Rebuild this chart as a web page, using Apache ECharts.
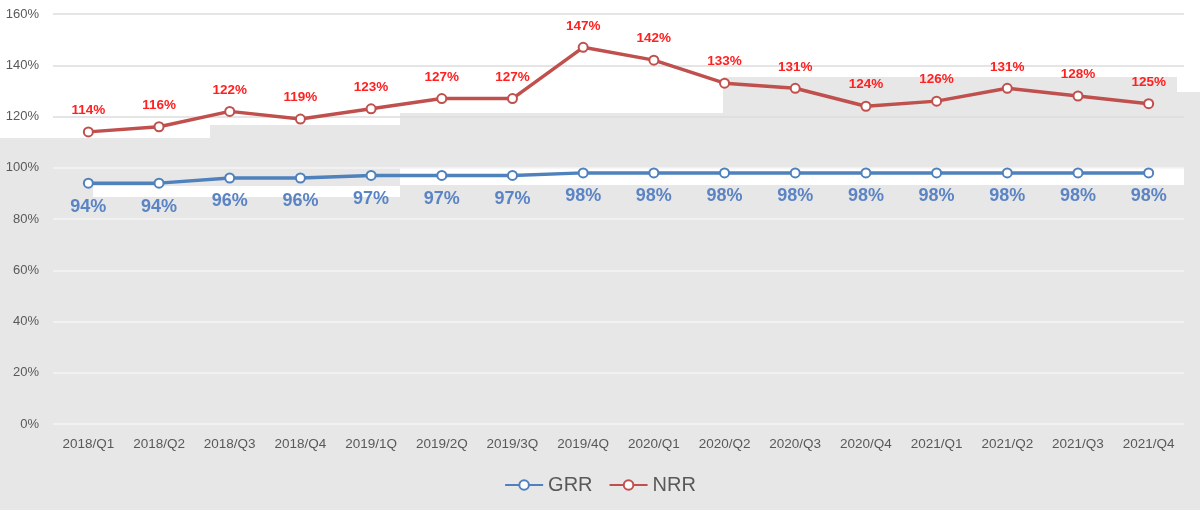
<!DOCTYPE html>
<html>
<head>
<meta charset="utf-8">
<script src="https://cdn.jsdelivr.net/npm/echarts@6/dist/echarts.min.js"></script>
<style>
html,body{margin:0;padding:0;background:#e7e7e7;}
#chart{width:1200px;height:510px;}
</style>
</head>
<body>
<div id="chart"></div>
<script>
const categories = ['2018/Q1','2018/Q2','2018/Q3','2018/Q4','2019/1Q','2019/2Q','2019/3Q','2019/4Q','2020/Q1','2020/Q2','2020/Q3','2020/Q4','2021/Q1','2021/Q2','2021/Q3','2021/Q4'];
const grr = [94,94,96,96,97,97,97,98,98,98,98,98,98,98,98,98];
const nrr = [114,116,122,119,123,127,127,147,142,133,131,124,126,131,128,125];
const seriesNames = ['GRR','NRR'];

const FONT = '"Liberation Sans", Arial, sans-serif';
const chart = echarts.init(document.getElementById('chart'), null, {renderer:'canvas'});

function whiteRect(x,y,w,h){
  return {type:'rect', z:-10, silent:true, shape:{x:x,y:y,width:w,height:h}, style:{fill:'#ffffff'}};
}

chart.setOption({
  backgroundColor:'#e7e7e7',
  animation:false,
  graphic:{elements:[
    whiteRect(0,0,1200,77),
    whiteRect(1177,77,23,15),
    whiteRect(0,77,723,36),
    whiteRect(0,113,400,12),
    whiteRect(0,125,210,13),
    whiteRect(400,168,784,17),
    whiteRect(93,186,307,11)
  ]},
  grid:{left:53,right:16,top:14,bottom:86,containLabel:false},
  legend:{
    data:seriesNames,
    left:'center', top:470,
    itemWidth:38, itemHeight:12, itemGap:16,
    textStyle:{fontSize:20,color:'#595959',fontFamily:FONT}
  },
  xAxis:{
    type:'category', data:categories, boundaryGap:true,
    axisLine:{show:false}, axisTick:{show:false},
    axisLabel:{color:'#595959',fontSize:13.5,fontFamily:FONT,margin:13,interval:0}
  },
  yAxis:{
    type:'value', min:0, max:160, interval:20,
    axisLine:{show:false}, axisTick:{show:false},
    axisLabel:{formatter:'{value}%',color:'#595959',fontSize:13,fontFamily:FONT,margin:14},
    splitLine:{lineStyle:{width:1.5,color:['#f4f4f4','#f4f4f4','#f4f4f4','#f4f4f4','#f4f4f4','#f4f4f4','#dcdcdc','#dcdcdc','#dcdcdc']}}
  },
  series:[
    {
      name:seriesNames[0], type:'line', data:grr,
      symbol:'emptyCircle', symbolSize:9,
      lineStyle:{color:'#4f81bd',width:3.5},
      itemStyle:{color:'#4f81bd',borderColor:'#4f81bd',borderWidth:1.5},
      label:{show:true,position:'bottom',distance:9,formatter:'{c}%',color:'#5b84c4',fontSize:18,fontWeight:'bold',fontFamily:FONT}
    },
    {
      name:seriesNames[1], type:'line', data:nrr,
      symbol:'emptyCircle', symbolSize:9,
      lineStyle:{color:'#c0504d',width:3.5},
      itemStyle:{color:'#c0504d',borderColor:'#c0504d',borderWidth:1.5},
      label:{show:true,position:'top',distance:9,formatter:'{c}%',color:'#ff2020',fontSize:13.5,fontWeight:'bold',fontFamily:FONT}
    }
  ]
});
</script>
</body>
</html>
